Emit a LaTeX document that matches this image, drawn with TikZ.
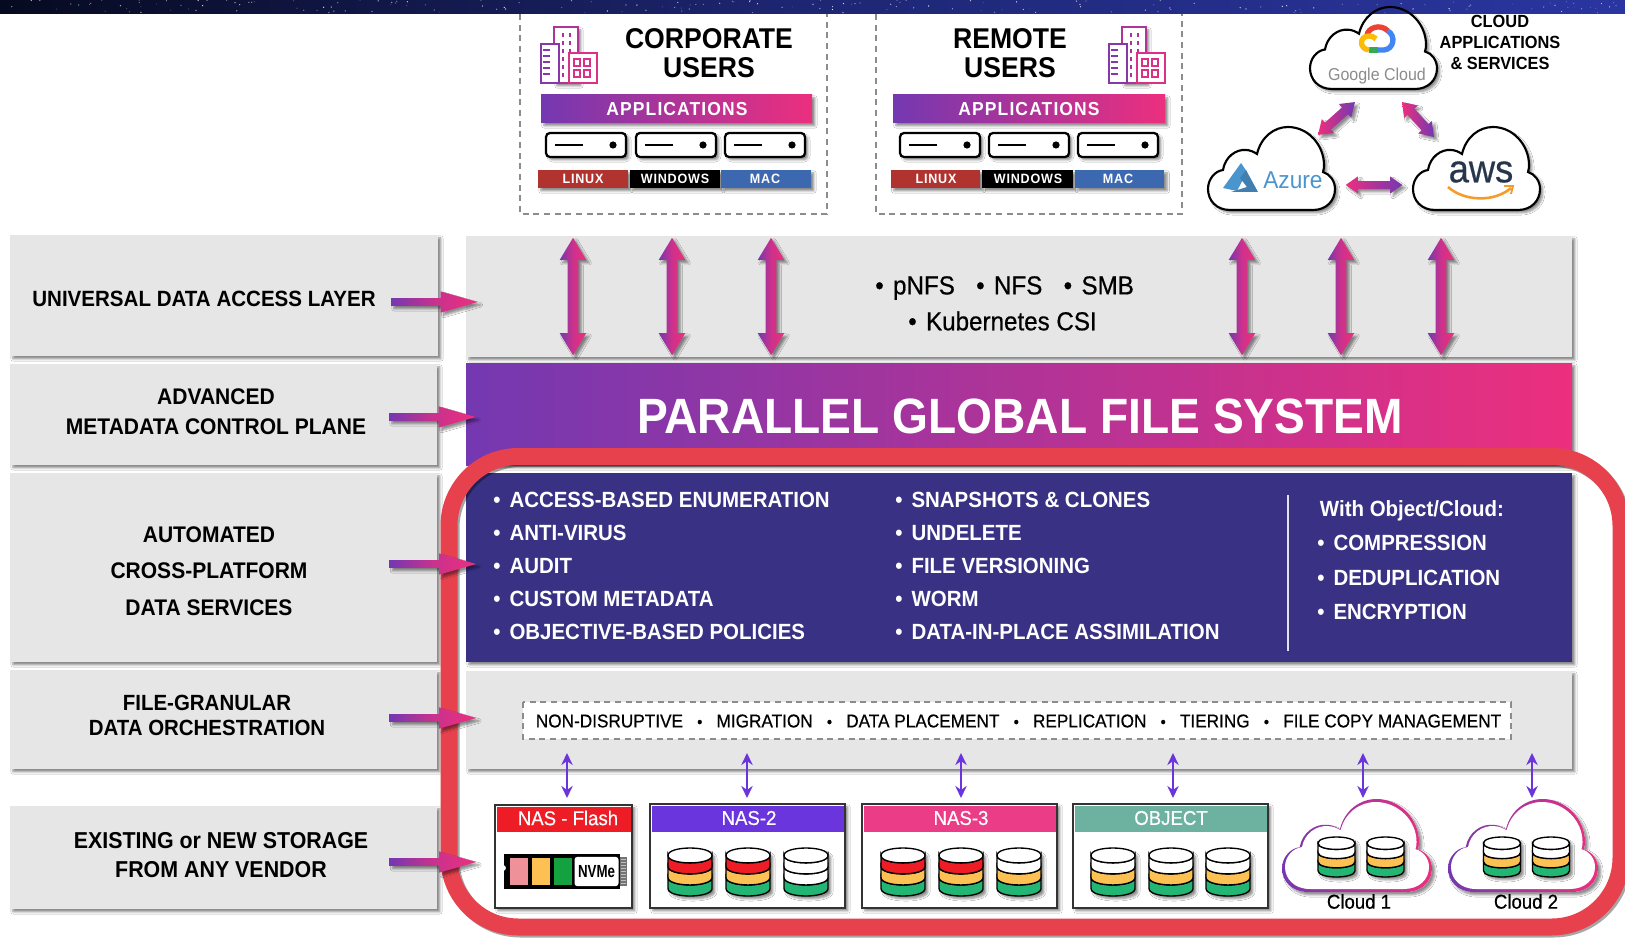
\documentclass[tikz,border=0pt]{standalone}
\usepackage{fontspec}
\setmainfont{Liberation Sans}[FakeStretch=0.93]
\newfontfamily\medf{Liberation Sans}[FakeStretch=0.93,FakeBold=0.5]
\usetikzlibrary{shapes.arrows,shadows.blur,arrows.meta}
\definecolor{pur}{HTML}{7438B1}
\definecolor{pnk}{HTML}{EC2F7E}
\definecolor{band}{HTML}{E6E6E6}
\definecolor{navy}{HTML}{383184}
\definecolor{redb}{HTML}{E8414E}
\definecolor{vio}{HTML}{6A35DC}
\definecolor{dred}{HTML}{EE1C25}
\definecolor{dyel}{HTML}{FDC153}
\definecolor{dgrn}{HTML}{23B574}
\definecolor{oslin}{HTML}{B03330}
\definecolor{osmac}{HTML}{3C68B0}
\definecolor{objt}{HTML}{6DB1A1}
\definecolor{nas3}{HTML}{EA3C87}
\definecolor{pinkchip}{HTML}{EF9198}
\definecolor{azb}{HTML}{4B95CF}
\definecolor{awsd}{HTML}{26364B}
\definecolor{awso}{HTML}{F49B2A}
\definecolor{gr}{HTML}{EA4335}
\definecolor{gb}{HTML}{4285F4}
\definecolor{gg}{HTML}{34A853}
\definecolor{gy}{HTML}{FBBC05}
\definecolor{skyl}{HTML}{060A20}
\definecolor{skyr}{HTML}{2A36A0}
\newcommand\fs[2]{\fontsize{\fpeval{#1*.75}pt}{\fpeval{#2*.75}pt}\selectfont}
\newcommand\bul{\makebox[12.2pt][l]{•}}
\newcommand\orchdot{{\fontsize{12pt}{12pt}\selectfont•}}
\def\cloudP{(22,83) .. controls (8,83) and (0,73) .. (0,62) .. controls (0,52) and (7,44) .. (15,43) .. controls (17,30) and (28,22) .. (38,23) .. controls (42,23) and (46,25) .. (49,27) .. controls (53,10) and (66,0) .. (80,0) .. controls (100,0) and (116,18) .. (116,38) .. controls (116,40) and (116,42) .. (115,45) .. controls (122,47) and (127,54) .. (127,62) .. controls (127,74) and (118,83) .. (105,83) -- cycle}
% drum: cx, ytop, w, h, c1, c2, c3
\newcommand\drum[7]{%
 \pgfmathsetmacro\dl{#1-#3/2}\pgfmathsetmacro\dr{#1+#3/2}%
 \pgfmathsetmacro\ry{#4*.155}\pgfmathsetmacro\kk{\ry*1.33}%
 \pgfmathsetmacro\ya{#2+\ry}\pgfmathsetmacro\st{(#4-2*\ry)/3}%
 \pgfmathsetmacro\yb{\ya+\st}\pgfmathsetmacro\yc{\yb+\st}\pgfmathsetmacro\yd{\yc+\st}%
 \path[shd,fill=white] (\dl,\yc) -- (\dl,\yd) .. controls (\dl,\yd+\kk) and (\dr,\yd+\kk) .. (\dr,\yd) -- (\dr,\ya) .. controls (\dr,\ya-\kk) and (\dl,\ya-\kk) .. (\dl,\ya) -- cycle;
 \draw[drumline,fill=#7] (\dl,\yc) -- (\dl,\yd) .. controls (\dl,\yd+\kk) and (\dr,\yd+\kk) .. (\dr,\yd) -- (\dr,\yc) .. controls (\dr,\yc+\kk) and (\dl,\yc+\kk) .. (\dl,\yc) -- cycle;
 \draw[drumline,fill=#6] (\dl,\yb) -- (\dl,\yc) .. controls (\dl,\yc+\kk) and (\dr,\yc+\kk) .. (\dr,\yc) -- (\dr,\yb) .. controls (\dr,\yb+\kk) and (\dl,\yb+\kk) .. (\dl,\yb) -- cycle;
 \draw[drumline,fill=#5] (\dl,\ya) -- (\dl,\yb) .. controls (\dl,\yb+\kk) and (\dr,\yb+\kk) .. (\dr,\yb) -- (\dr,\ya) .. controls (\dr,\ya+\kk) and (\dl,\ya+\kk) .. (\dl,\ya) -- cycle;
 \draw[drumline,fill=white] (\dl,\ya) .. controls (\dl,\ya+\kk) and (\dr,\ya+\kk) .. (\dr,\ya) .. controls (\dr,\ya-\kk) and (\dl,\ya-\kk) .. (\dl,\ya) -- cycle;
}
% building icon
\newcommand\bldg[2]{\begin{scope}[shift={(#1,#2)},line width=1.5pt]
 \draw[draw=pur!50!pnk,fill=white,shd] (13,0) rectangle (37,56);
 \foreach \yy in {6,14,22,30,38,46}{\draw[draw=pur!50!pnk,line width=1.2pt] (22,\yy) -- (22,\yy+4) (29,\yy) -- (29,\yy+4);}
 \draw[draw=pur!85!pnk,fill=white] (0,17) rectangle (18,56);
 \foreach \yy in {23,29,35,41,47}{\draw[draw=pur!85!pnk,line width=1pt] (2,\yy) -- (9,\yy);}
 \draw[draw=pnk!85!pur,fill=white] (28,26) rectangle (56,56);
 \foreach \xx in {33,43}\foreach \yy in {32,43}{\draw[draw=pnk!85!pur,line width=1.1pt] (\xx,\yy) rectangle (\xx+6,\yy+7);}
\end{scope}}
\newcommand\srv[2]{\draw[srvbox] (#1,#2) rectangle (#1+80,#2+24);
 \draw[line width=1.4pt] (#1+9,#2+12) -- (#1+37,#2+12);
 \fill (#1+67,#2+12) circle[radius=2.7pt];}
\newcommand\shaft[1]{\rule{0pt}{#1}}
\tikzset{
 x=0.75pt,y=-0.75pt,
 shd/.style={blur shadow={shadow xshift=2.2pt,shadow yshift=-2.2pt,shadow blur radius=1.6pt,shadow blur steps=5,shadow opacity=45}},
 greyband/.style={fill=band,shd},
 lbl/.style={inner sep=0pt,align=center},
 drumline/.style={draw=black,line width=1pt},
 srvbox/.style={draw=black,fill=white,line width=1.7pt,rounded corners=3pt,shd},
 fatv/.style={double arrow,rotate=90,inner sep=0pt,draw=none,left color=pur,right color=pnk,middle color=pnk!75!pur,shd,minimum height=88pt,double arrow head extend=6pt,double arrow tip angle=62},
 fatd/.style={double arrow,inner sep=0pt,draw=none,left color=pnk,right color=pur,shd,double arrow head extend=3.5pt,double arrow tip angle=70},
 fath/.style={single arrow,inner sep=0pt,draw=none,left color=pur,right color=pnk,middle color=pnk!70!pur,shd,minimum height=65pt,single arrow head extend=5pt,single arrow tip angle=32},
 thin/.style={{Stealth[length=9pt,width=8.5pt]}-{Stealth[length=9pt,width=8.5pt]},draw=vio,line width=1.8pt},
 osbar/.style={inner sep=0pt,minimum height=13.5pt,shd},
 ostext/.style={inner sep=0pt,text=white,font=\bfseries\fs{13.5}{14}\addfontfeature{LetterSpace=6}},
 hdr/.style={text=white,font=\fs{20}{22}\medf,inner sep=0pt},
 whitebul/.style={inner sep=0pt,anchor=west,align=left,text=white,font=\bfseries\fs{22}{33}},
 box/.style={draw=black!80,line width=2.2pt,fill=white,shd},
 dashedbox/.style={draw=black!45,line width=1pt,dash pattern=on 4.5pt off 3.5pt},
 appbar/.style={inner sep=0pt,left color=pur,right color=pnk,shd},
 bwcloud/.style={fill=white,shd},
}
\begin{document}
\begin{tikzpicture}
\useasboundingbox (0,0) rectangle (1625,938);
\clip (0,0) rectangle (1625,938);
\fill[white] (0,0) rectangle (1625,938);

% left column
\path[greyband] (10,235) rectangle (438,356);
\path[greyband] (10,364) rectangle (437,465);
\path[greyband] (10,473) rectangle (437,662);
\path[greyband] (10,670) rectangle (437,769);
\path[greyband] (10,806) rectangle (437,909);
\node[lbl,font=\bfseries\fs{22.1}{30}] (uda) at (204,299) {UNIVERSAL DATA ACCESS LAYER};
\node[lbl,font=\bfseries\fs{22.6}{30}] (adv) at (216,412) {ADVANCED\\[0pt]METADATA CONTROL PLANE};
\node[lbl,font=\bfseries\fs{22.6}{36.5}] (aut) at (209,571) {AUTOMATED\\CROSS-PLATFORM\\DATA SERVICES};
\node[lbl,font=\bfseries\fs{22}{25}] (fgd) at (207,715.5) {FILE-GRANULAR\\DATA ORCHESTRATION};
\node[lbl,font=\bfseries\fs{23}{29}] (ens) at (221,855.5) {EXISTING or NEW STORAGE\\FROM ANY VENDOR};

% right column
\path[greyband] (466,236) rectangle (1572,357);
\path[shd,left color=pur,right color=pnk] (466,363) rectangle (1572,465);
\path[fill=navy,shd] (466,473) rectangle (1572,662);
\path[greyband] (466,671) rectangle (1572,769);

\node[inner sep=0pt,text=white,font=\bfseries\fs{49.6}{50}] (pgfs) at (1020,416) {PARALLEL GLOBAL FILE SYSTEM};
\node[inner sep=0pt,align=left,anchor=west,font=\fs{26}{26}\medf] (prot1) at (875,288) {•\hspace{7pt}pNFS\hspace{16pt}•\hspace{7pt}NFS\hspace{16pt}•\hspace{7pt}SMB};
\node[inner sep=0pt,align=left,anchor=west,font=\fs{26}{26}\medf] (prot2) at (908,321) {•\hspace{7pt}Kubernetes CSI};

% services text
\node[whitebul] (col1) at (493,566) {\bul ACCESS-BASED ENUMERATION\\\bul ANTI-VIRUS\\\bul AUDIT\\\bul CUSTOM METADATA\\\bul OBJECTIVE-BASED POLICIES};
\node[whitebul] (col2) at (895,566) {\bul SNAPSHOTS \& CLONES\\\bul UNDELETE\\\bul FILE VERSIONING\\\bul WORM\\\bul DATA-IN-PLACE ASSIMILATION};
\node[whitebul,font=\bfseries\fs{22}{34.5}] (col3) at (1317,560) {\hspace{2pt}With Object/Cloud:\\\bul COMPRESSION\\\bul DEDUPLICATION\\\bul ENCRYPTION};
\draw[white!85!navy,line width=1pt] (1288,495) -- (1288,651);

% orchestration row
\draw[dashedbox,fill=white] (523,702) rectangle (1511,739);
\node[inner sep=0pt,text width=724pt,align=justify,font=\fs{18.5}{22}\medf] (orch) at (1018.5,721) {NON-DISRUPTIVE\hfill\orchdot\hfill MIGRATION\hfill\orchdot\hfill DATA PLACEMENT\hfill\orchdot\hfill REPLICATION\hfill\orchdot\hfill TIERING\hfill\orchdot\hfill FILE COPY MANAGEMENT};

% red highlight
\draw[black,opacity=.35,line width=12.75pt,rounded corners=52pt] (451,458.5) rectangle (1623,929);
\draw[redb,line width=12.75pt,rounded corners=52pt] (449,456.5) rectangle (1621,927);

% left fat arrows
\node[fath] (a1) at (427.5,302) {\shaft{5.5pt}};
\node[fath] (a2) at (425.5,417) {\shaft{5.5pt}};
\node[fath] (a3) at (426,564) {\shaft{5.5pt}};
\node[fath] (a4) at (426,718) {\shaft{5.5pt}};
\node[fath] (a5) at (426,862) {\shaft{5.5pt}};

% vertical fat arrows
\foreach \n/\xx in {1/573,2/672,3/771,4/1242,5/1341,6/1441}{\node[fatv] (v\n) at (\xx,296.5) {\shaft{7.5pt}};}

% storage boxes
\path[box] (495,805) rectangle (632,908);
\fill[dred] (496.5,806.5) rectangle (630.5,832);
\node[hdr] (s1) at (568,818) {NAS - Flash};
\path[box] (650,804) rectangle (845,908);
\fill[vio] (651.5,805.5) rectangle (843.5,832);
\node[hdr] (s2) at (749,818) {NAS-2};
\path[box] (862,804) rectangle (1057,908);
\fill[nas3] (863.5,805.5) rectangle (1055.5,832);
\node[hdr] (s3) at (961,818) {NAS-3};
\path[box] (1073,804) rectangle (1268,908);
\fill[objt] (1074.5,805.5) rectangle (1266.5,832);
\node[hdr] (s4) at (1171,818) {OBJECT};

% NVMe
\fill[black] (504,854) rectangle (620,889);
\fill[black!55] (620,857) rectangle (627,886);
\foreach \yy in {859,862,865,868,871,874,877,880,883}{\fill[white!75!black] (621,\yy) rectangle (626,\yy+1.4);}
\fill[white] (503,868) circle[radius=2.2pt];
\fill[pinkchip] (510,858) rectangle (528,885);
\fill[dyel] (532,858) rectangle (550,885);
\fill[dgrn!70!green!80!black] (554,858) rectangle (572,885);
\node[fill=white,rounded corners=2pt,minimum width=33pt,minimum height=21.8pt,inner sep=0pt,font=\bfseries\fs{17.5}{18}\addfontfeature{FakeStretch=0.76}] (nv) at (596.5,871.5) {NVMe};

% drums
\drum{690}{848}{44}{48}{dred}{dyel}{dgrn}
\drum{748}{848}{44}{48}{dred}{dyel}{dgrn}
\drum{806}{848}{44}{48}{white}{white}{dgrn}
\drum{903}{848}{44}{48}{dred}{dyel}{dgrn}
\drum{961}{848}{44}{48}{dred}{dyel}{dgrn}
\drum{1019}{848}{44}{48}{white}{dyel}{dgrn}
\drum{1113}{848}{44}{48}{white}{dyel}{dgrn}
\drum{1171}{848}{44}{48}{white}{dyel}{dgrn}
\drum{1228}{848}{44}{48}{white}{dyel}{dgrn}

% storage clouds
\begin{scope}[shift={(1282,799)},xscale=150/127,yscale=93/83]
 \path[bwcloud] \cloudP;
 \shade[left color=pur,right color=pnk] \cloudP;
\end{scope}
\begin{scope}[shift={(1285,802)},xscale=144/127,yscale=87/83]
 \fill[white] \cloudP;
\end{scope}
\begin{scope}[shift={(1448,799)},xscale=150/127,yscale=93/83]
 \path[bwcloud] \cloudP;
 \shade[left color=pur,right color=pnk] \cloudP;
\end{scope}
\begin{scope}[shift={(1451,802)},xscale=144/127,yscale=87/83]
 \fill[white] \cloudP;
\end{scope}
\drum{1336.5}{837}{37}{40}{white}{dyel}{dgrn}
\drum{1385.5}{837}{37}{40}{white}{dyel}{dgrn}
\drum{1502}{837}{37}{40}{white}{dyel}{dgrn}
\drum{1551}{837}{37}{40}{white}{dyel}{dgrn}
\node[inner sep=0pt,font=\fs{20}{22}\medf] (c1) at (1359,901.5) {Cloud 1};
\node[inner sep=0pt,font=\fs{20}{22}\medf] (c2) at (1526,901.5) {Cloud 2};

% storage connectors
\foreach \n/\xx in {1/567,2/747,3/961,4/1173,5/1363,6/1532}{
 \coordinate (ta\n) at (\xx,753);
 \coordinate (tb\n) at (\xx,798);
 \draw[thin] (ta\n) -- (tb\n);
}

% user boxes
\draw[dashedbox] (520,14) -- (520,214) -- (827,214) -- (827,14);
\draw[dashedbox] (876,14) -- (876,214) -- (1182,214) -- (1182,14);
\bldg{541}{27}
\bldg{1109}{27}
\node[inner sep=0pt,align=center,font=\bfseries\fs{28.6}{29}] (cu) at (709,53.5) {CORPORATE\\USERS};
\node[inner sep=0pt,align=center,font=\bfseries\fs{28.6}{29}] (ru) at (1010,53.5) {REMOTE\\USERS};
\node[appbar,minimum width=203.25pt,minimum height=21pt] (ap1bar) at (676.5,109) {};
\node[inner sep=0pt,text=white,font=\bfseries\fs{18.8}{20}\addfontfeature{LetterSpace=6}] (ap1) at (677,109) {APPLICATIONS};
\node[appbar,minimum width=204pt,minimum height=21pt] (ap2bar) at (1029,109) {};
\node[inner sep=0pt,text=white,font=\bfseries\fs{18.8}{20}\addfontfeature{LetterSpace=6}] (ap2) at (1029,109) {APPLICATIONS};
\srv{546}{133}\srv{636}{133}\srv{725}{133}
\srv{900}{133}\srv{989}{133}\srv{1078}{133}
\node[osbar,fill=oslin,minimum width=67.5pt] (l1) at (583,179) {};
\node[osbar,fill=black,minimum width=67.5pt] (w1) at (675,179) {};
\node[osbar,fill=osmac,minimum width=67.5pt] (m1) at (766,179) {};
\node[ostext] at (583,179) {LINUX};
\node[ostext] at (675,179) {WINDOWS};
\node[ostext] at (765,179) {MAC};
\node[osbar,fill=oslin,minimum width=67pt] (l2) at (935.5,179) {};
\node[osbar,fill=black,minimum width=68pt] (w2) at (1027.5,179) {};
\node[osbar,fill=osmac,minimum width=67pt] (m2) at (1119.5,179) {};
\node[ostext] at (936,179) {LINUX};
\node[ostext] at (1028,179) {WINDOWS};
\node[ostext] at (1118,179) {MAC};

% cloud services (fills first, band over them, then outlines)
\begin{scope}[shift={(1310,7)},xscale=127/127,yscale=82/83]
 \path[bwcloud] \cloudP;
\end{scope}
\begin{scope}[shift={(1208,127)},yscale=83/83]
 \path[bwcloud,draw=black,line width=1.6pt] \cloudP;
\end{scope}
\begin{scope}[shift={(1413,127)},yscale=83/83]
 \path[bwcloud,draw=black,line width=1.6pt] \cloudP;
\end{scope}

% sky band
\shade[left color=skyl,right color=skyr,middle color=skyl!35!skyr] (0,0) rectangle (1625,14);
\pgfmathsetseed{42}
\foreach \i in {1,...,170}{
 \pgfmathsetmacro\sx{rnd*1625}\pgfmathsetmacro\sy{rnd*13}\pgfmathsetmacro\so{rnd*.8+.1}
 \fill[white,opacity=\so] (\sx,\sy) circle[radius=.5pt];
}
\begin{scope}[shift={(1310,7)},xscale=127/127,yscale=82/83]
 \draw[black,line width=1.6pt] \cloudP;
\end{scope}

% google logo
\draw[gr,line width=4pt] (1367,35) .. controls (1368,28) and (1380,23) .. (1388,31);
\draw[gb,line width=4pt] (1388,31) .. controls (1396,36) and (1394,49) .. (1384,50) -- (1378,50);
\draw[gg,line width=4pt] (1378,50) -- (1369,50);
\draw[gy,line width=4pt] (1369,50) .. controls (1359,49) and (1359,36) .. (1369,36) .. controls (1372,36) and (1374,37) .. (1376,39);
\node[inner sep=0pt,text=black!45,font=\fs{17.2}{20}] (goog) at (1377,76.5) {Google Cloud};
% azure logo
\fill[azb] (1241,163) -- (1247,172) -- (1237,191) -- (1223,188) -- cycle;
\fill[azb!85!black] (1246,170) -- (1258,192) -- (1231,192) -- (1247,187) -- (1240,178) -- cycle;
\node[inner sep=0pt,anchor=west,text=azb,font=\fs{24.4}{28}] (azu) at (1263,180) {Azure};
% aws logo
\node[inner sep=0pt,text=awsd,font=\fs{39}{44}\medf] (aws) at (1481,172) {aws};
\draw[awso,line width=1.9pt] (1448,187) .. controls (1465,202) and (1495,202) .. (1511,188);
\draw[awso,line width=1.4pt] (1504,186) -- (1513,186) -- (1511,194);

\node[inner sep=0pt,align=center,font=\bfseries\fs{17.6}{21}] (capp) at (1500,42) {CLOUD\\APPLICATIONS\\\& SERVICES};

% cloud fat arrows
\node[fatd,minimum height=37pt,rotate=41.7] (ga) at (1336.5,118.5) {\shaft{6.5pt}};
\node[fatd,minimum height=35.5pt,rotate=-47.6] (gw) at (1418,119.5) {\shaft{6.5pt}};
\node[fatd,minimum height=42.5pt] (aw) at (1374,185) {\shaft{5.5pt}};
\end{tikzpicture}
\end{document}
